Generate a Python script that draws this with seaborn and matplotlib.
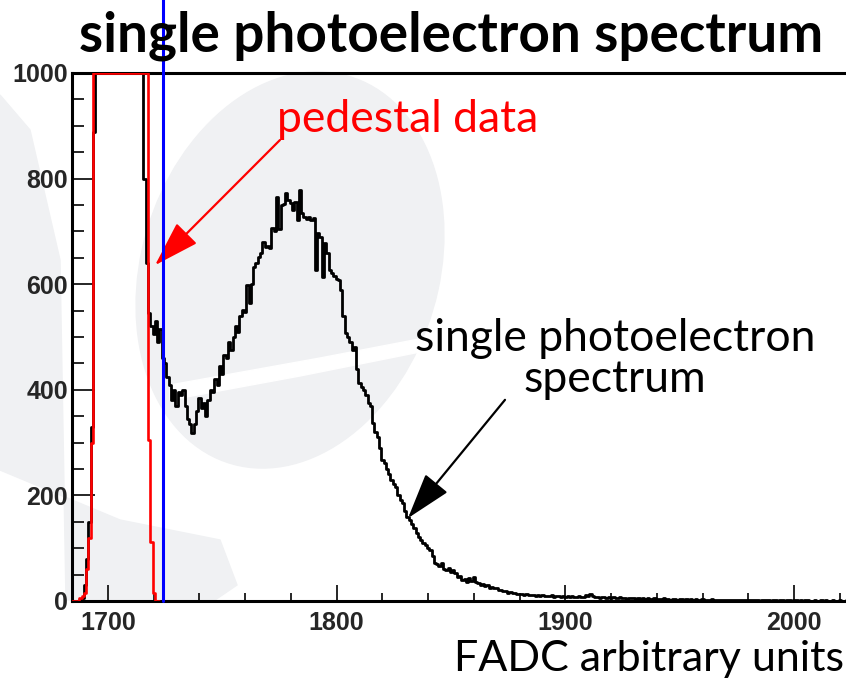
import seaborn as sns
import matplotlib.pyplot as plt
from matplotlib.ticker import MultipleLocator
from matplotlib.patches import Ellipse, Polygon

# FADC bins (width 1, centred on integers)
spe_start = 1685
spe_counts = [
    0, 0, 0, 2, 5, 30, 80, 150, 330, 889,                              # 1685-1694
    1000, 1000, 1000, 1000, 1000, 1000, 1000, 1000, 1000, 1000,        # 1695-1704
    1000, 1000, 1000, 1000, 1000, 1000, 1000, 1000, 1000, 1000,        # 1705-1714
    1000, 800, 640, 545, 520, 505, 530, 490, 515, 460,                 # 1715-1724
    450, 424, 410, 380, 400, 370, 395, 390, 400, 370,                  # 1725-1734
    345, 335, 318, 335, 360, 385, 365, 375, 350, 380,                  # 1735-1744
    400, 395, 420, 410, 445, 430, 465, 460, 490, 475,                  # 1745-1754
    500, 520, 510, 540, 551, 548, 598, 565, 600, 632,                  # 1755-1764
    640, 651, 660, 680, 670, 672, 668, 706, 700, 765,                  # 1765-1774
    705, 750, 752, 772, 760, 753, 740, 755, 721, 778,                  # 1775-1784
    735, 727, 724, 728, 721, 725, 627, 697, 690, 614,                  # 1785-1794
    678, 660, 627, 621, 615, 610, 608, 589, 540, 508,                  # 1795-1804
    500, 490, 475, 481, 440, 413, 405, 400, 390, 375,                  # 1805-1814
    370, 337, 320, 311, 290, 267, 261, 250, 240, 229,                  # 1815-1824
    222, 215, 200, 191, 186, 170, 160, 153, 145, 138,                  # 1825-1834
    129, 121, 115, 110, 106, 100, 97, 85, 72, 70,                      # 1835-1844
    66, 72, 60, 59, 62, 55, 58, 53, 45, 48,                            # 1845-1854
    40, 42, 36, 43, 38, 45, 36, 34, 30, 32,                            # 1855-1864
    28, 30, 25, 27, 24, 25, 21, 20, 18, 19,                            # 1865-1874
    16, 17, 15, 15, 13, 14, 13, 12, 14, 12,                            # 1875-1884
    11, 12, 10, 11, 10, 12, 9, 10, 9, 11,                              # 1885-1894
    8, 9, 10, 8, 9, 8, 10, 8, 9, 7,                                    # 1895-1904
    8, 9, 7, 8, 12, 10, 14, 9, 8, 7,                                   # 1905-1914
    6, 7, 8, 6, 7, 6, 7, 5, 6, 7,                                      # 1915-1924
    5, 6, 4, 5, 6, 5, 4, 5, 4, 6,                                      # 1925-1934
    4, 5, 3, 4, 5, 3, 4, 3, 5, 3,                                      # 1935-1944
    4, 2, 3, 4, 2, 3, 3, 2, 4, 2,                                      # 1945-1954
    3, 2, 3, 2, 2, 3, 2, 1, 2, 3,                                      # 1955-1964
    1, 2, 2, 1, 2, 1, 2, 1, 1, 2,                                      # 1965-1974
    1, 2, 1, 1, 2, 1, 1, 1, 2, 1,                                      # 1975-1984
    0, 1, 1, 2, 1, 0, 1, 1, 0, 1,                                      # 1985-1994
    1, 0, 1, 2, 0, 1, 1, 0, 1, 0,                                      # 1995-2004
    1, 1, 0, 0, 1, 0, 0, 1, 0, 1,                                      # 2005-2014
    0, 0, 1, 0, 0, 1, 0, 0, 1, 0,                                      # 2015-2024
    0, 0, 1, 0,                                                        # 2025-2028
]

ped_start = 1685
ped_counts = [
    0, 0, 0, 6, 10, 15, 60, 120, 300, 1000,                            # 1685-1694
    1000, 1000, 1000, 1000, 1000, 1000, 1000, 1000, 1000, 1000,        # 1695-1704
    1000, 1000, 1000, 1000, 1000, 1000, 1000, 1000, 1000, 1000,        # 1705-1714
    1000, 1000, 1000, 305, 112, 15, 0, 0,                              # 1715-1722
]

cut_value = 1724
x_range = (1684.3, 2028.8)
y_range = (0, 1000)

# annotation anchors: (arrow tip, arrow tail, label centre) in data units
ped_tip, ped_tail, ped_label = (1720.6, 636), (1775.2, 873), (1831, 912)
spe_tip, spe_tail, spe_label = (1831.2, 157), (1873.6, 381), (1921.7, 458)


def centres(start, n):
    return [start + i for i in range(n)]


def edges(start, n):
    return [start - 0.5 + i for i in range(n + 1)]


sns.set_style("ticks")
plt.rcParams['font.family'] = ['Lato', 'DejaVu Sans']

W, H = 846, 678
fig = plt.figure(figsize=(W / 100, H / 100), dpi=100)

# faint watermark swirls in the slide background
wm = "#f0f1f3"
def px(x, y):
    return (x / W, 1 - y / H)
fig.patches.append(Ellipse(px(290, 270), 300 / W, 400 / H, angle=-10,
                           transform=fig.transFigure, color=wm, zorder=-5))
fig.patches.append(Polygon([px(0, 95), px(30, 130), px(60, 260), px(66, 600),
                            px(215, 600), px(237, 585), px(220, 540),
                            px(120, 520), px(0, 470)],
                           closed=True, transform=fig.transFigure, color=wm, zorder=-5))
fig.patches.append(Polygon([px(170, 385), px(320, 358), px(440, 335),
                            px(440, 348), px(300, 376), px(170, 400)],
                           closed=True, transform=fig.transFigure, color="white", zorder=-4))

ax = fig.add_axes([72 / W, 1 - 601 / H, (860 - 72) / W, 528 / H])
ax.patch.set_alpha(0)

sns.histplot(x=centres(ped_start, len(ped_counts)), weights=ped_counts,
             bins=edges(ped_start, len(ped_counts)), element="step", fill=False,
             color="#ff0000", linewidth=1.9, ax=ax, zorder=3)
sns.histplot(x=centres(spe_start, len(spe_counts)), weights=spe_counts,
             bins=edges(spe_start, len(spe_counts)), element="step", fill=False,
             color="black", linewidth=2.0, ax=ax, zorder=2)

ax.axvline(cut_value, ymin=0, ymax=1.16, color="#0000ff", linewidth=2.2,
           clip_on=False, zorder=5)

ax.set_xlim(*x_range)
ax.set_ylim(*y_range)
ax.set_xlabel("")
ax.set_ylabel("")

ax.xaxis.set_major_locator(MultipleLocator(100))
ax.xaxis.set_minor_locator(MultipleLocator(20))
ax.yaxis.set_major_locator(MultipleLocator(200))
ax.yaxis.set_minor_locator(MultipleLocator(50))
ax.tick_params(axis="x", which="major", direction="in", length=11.5, width=1.4, pad=7)
ax.tick_params(axis="x", which="minor", direction="in", length=5.8, width=1.4)
ax.tick_params(axis="y", which="major", direction="in", length=16.5, width=1.4, pad=3)
ax.tick_params(axis="y", which="minor", direction="in", length=8.6, width=1.4)
for lab in ax.get_xticklabels() + ax.get_yticklabels():
    lab.set_family(['Liberation Sans Narrow', 'Liberation Sans', 'DejaVu Sans'])
    lab.set_fontweight("bold")
    lab.set_fontsize(18)

for side in ["left", "bottom", "top"]:
    ax.spines[side].set_linewidth(2.2)
    ax.spines[side].set_color("black")
ax.spines["right"].set_visible(False)

fig.text(0.533, 0.948, "single photoelectron spectrum", ha="center", va="center",
         fontsize=39.5, fontweight="bold", color="black")
fig.text(0.998, 0.028, "FADC arbitrary units", ha="right", va="center",
         fontsize=31, color="black")

arrow = "-|>,head_length=1.6,head_width=0.5"
ax.annotate("", xy=ped_tip, xytext=ped_tail,
            arrowprops=dict(arrowstyle=arrow, mutation_scale=18, color="#ff0000",
                            lw=1.6, shrinkA=0, shrinkB=0))
ax.text(*ped_label, "pedestal data", ha="center", va="center",
        fontsize=32, color="#ff0000")
ax.annotate("", xy=spe_tip, xytext=spe_tail,
            arrowprops=dict(arrowstyle=arrow, mutation_scale=18, color="black",
                            lw=1.6, shrinkA=0, shrinkB=0))
ax.text(*spe_label, "single photoelectron\nspectrum", ha="center", va="center",
        fontsize=32, color="black", linespacing=1.0)

fig.savefig("out.png", dpi=100)
